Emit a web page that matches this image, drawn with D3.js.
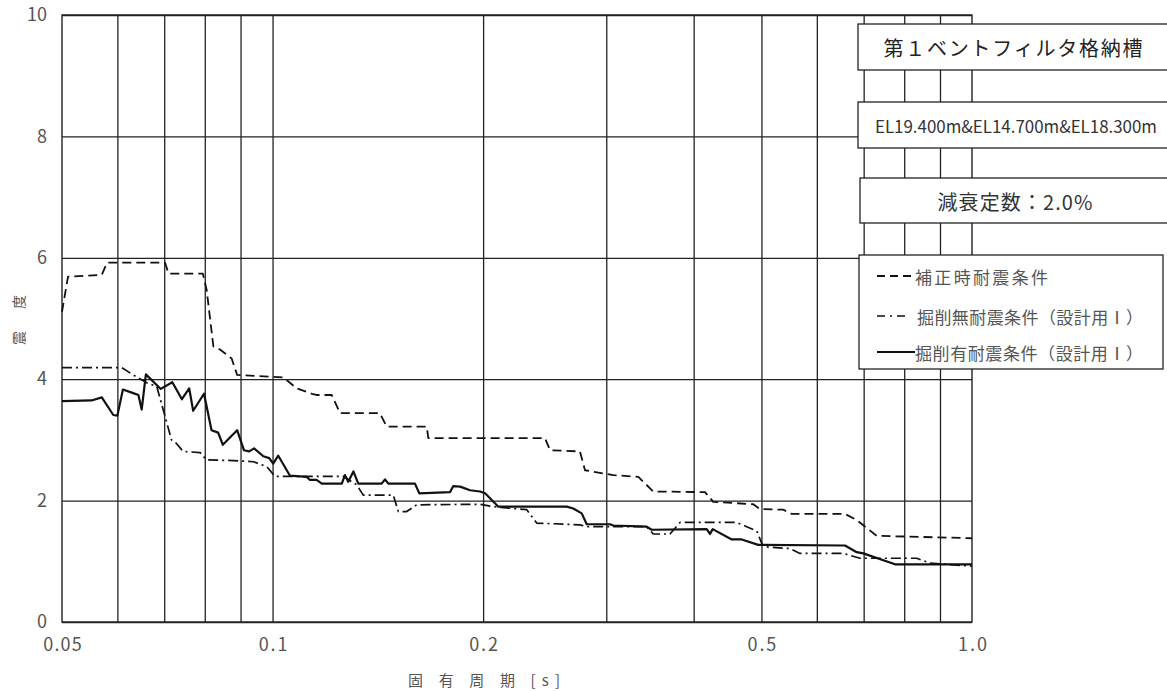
<!DOCTYPE html>
<html lang="ja">
<head>
<meta charset="utf-8">
<script src="https://cdn.jsdelivr.net/npm/d3@7"></script>
<style>
  html, body { margin: 0; padding: 0; background: #fff; }
  svg { display: block; }
  text { font-family: "Noto Sans CJK JP", "Noto Sans", sans-serif; }
</style>
</head>
<body>
<svg id="chart" width="1167" height="691"></svg>
<script>
// 固有周期 [s] と震度 — 3 条件の床応答スペクトル
const periodsHosei = [0.0500,0.0510,0.0570,0.0580,0.0702,0.0710,0.0795,0.0805,0.0823,0.0841,0.0874,0.0890,0.1002,0.1036,0.1083,0.1138,0.1156,0.1215,0.1249,0.1424,0.1456,0.1661,0.1670,0.2452,0.2493,0.2751,0.2797,0.3070,0.3334,0.3502,0.4152,0.4267,0.4868,0.4976,0.5373,0.5524,0.6583,0.6842,0.7307,1.0];
const valuesHosei  = [5.11,5.69,5.72,5.92,5.92,5.74,5.74,5.47,4.54,4.49,4.34,4.07,4.04,4.03,3.85,3.76,3.74,3.74,3.44,3.44,3.22,3.22,3.03,3.03,2.83,2.81,2.50,2.42,2.39,2.15,2.14,1.98,1.94,1.86,1.85,1.78,1.78,1.68,1.42,1.38];

const periodsKussakuNashi = [0.0500,0.0609,0.0632,0.0661,0.0683,0.0698,0.0717,0.0725,0.0745,0.0788,0.0805,0.0879,0.0939,0.0981,0.1008,0.1262,0.1319,0.1348,0.1488,0.1513,0.1555,0.1607,0.1980,0.2068,0.2309,0.2386,0.2751,0.2813,0.3427,0.3502,0.3700,0.3824,0.4609,0.4763,0.4923,0.5004,0.5040,0.5493,0.5676,0.6546,0.6917,0.8335,0.8709,1.0];
const valuesKussakuNashi  = [4.19,4.19,4.07,3.94,3.88,3.49,3.00,2.97,2.81,2.79,2.67,2.66,2.64,2.56,2.40,2.40,2.26,2.09,2.09,1.82,1.82,1.93,1.94,1.90,1.85,1.63,1.60,1.57,1.57,1.45,1.45,1.64,1.64,1.57,1.50,1.30,1.24,1.21,1.13,1.13,1.05,1.05,0.97,0.92];

const periodsKussakuAri = [0.0500,0.0551,0.0570,0.0592,0.0600,0.0611,0.0632,0.0643,0.0650,0.0659,0.0692,0.0719,0.0742,0.0760,0.0770,0.0798,0.0818,0.0836,0.0849,0.0890,0.0910,0.0926,0.0941,0.0970,0.0989,0.1002,0.1019,0.1059,0.1119,0.1131,0.1156,0.1176,0.1256,0.1269,0.1283,0.1305,0.1326,0.1432,0.1448,0.1464,0.1598,0.1621,0.1794,0.1813,0.1854,0.1916,0.1980,0.2013,0.2103,0.2634,0.2691,0.2767,0.2813,0.3037,0.3070,0.3427,0.3484,0.4176,0.4221,0.4259,0.4534,0.4686,0.4948,0.6583,0.6842,0.6992,0.7761,1.0];
const valuesKussakuAri  = [3.64,3.65,3.70,3.41,3.40,3.83,3.77,3.74,3.50,4.08,3.84,3.95,3.67,3.85,3.48,3.76,3.16,3.12,2.92,3.16,2.83,2.81,2.86,2.73,2.70,2.61,2.74,2.41,2.39,2.34,2.34,2.28,2.28,2.42,2.31,2.48,2.28,2.28,2.35,2.28,2.28,2.12,2.14,2.24,2.23,2.17,2.15,2.12,1.90,1.90,1.87,1.79,1.61,1.61,1.59,1.57,1.52,1.53,1.45,1.53,1.36,1.36,1.27,1.26,1.15,1.13,0.95,0.95];

const seriesNames = ["補正時耐震条件", "掘削無耐震条件（設計用Ⅰ）", "掘削有耐震条件（設計用Ⅰ）"];
const xTickValues = [0.05, 0.1, 0.2, 0.5, 1.0];
const xTickLabels = ["0.05", "0.1", "0.2", "0.5", "1.0"];
const xGridValues = [0.06, 0.07, 0.08, 0.09, 0.1, 0.2, 0.3, 0.4, 0.5, 0.6, 0.7, 0.8, 0.9];
const yTickValues = [0, 2, 4, 6, 8, 10];
const titleText = "第１ベントフィルタ格納槽";
const elevationText = "EL19.400m&EL14.700m&EL18.300m";
const dampingText = "減衰定数：2.0%";
const xAxisTitle = "固 有 周 期 [s]";
const yAxisTitle = "震 度";

const svg = d3.select("#chart");
const plotLeft = 62, plotRight = 972, plotTop = 15, plotBottom = 622;

const x = d3.scaleLog().domain([0.05, 1.0]).range([plotLeft, plotRight]);
const y = d3.scaleLinear().domain([0, 10]).range([plotBottom, plotTop]);

const gridColor = "#222";
const labelColor = "#555";

// grid lines
const gx = svg.append("g")
  .attr("transform", `translate(0,${plotBottom})`)
  .call(d3.axisBottom(x).tickValues(xGridValues).tickSize(-(plotBottom - plotTop)).tickFormat(""));
gx.select(".domain").remove();
gx.selectAll("line").attr("stroke", gridColor).attr("stroke-width", 1.3);

const gy = svg.append("g")
  .attr("transform", `translate(${plotLeft},0)`)
  .call(d3.axisLeft(y).tickValues(yTickValues).tickSize(-(plotRight - plotLeft)).tickFormat(""));
gy.select(".domain").remove();
gy.selectAll("line").attr("stroke", gridColor).attr("stroke-width", 1.3);

// plot frame
svg.append("rect")
  .attr("x", plotLeft).attr("y", plotTop)
  .attr("width", plotRight - plotLeft).attr("height", plotBottom - plotTop)
  .attr("fill", "none").attr("stroke", gridColor).attr("stroke-width", 1.4);

// tick labels
const ax = svg.append("g")
  .attr("transform", `translate(0,${plotBottom})`)
  .call(d3.axisBottom(x).tickValues(xTickValues).tickSize(0).tickPadding(16)
    .tickFormat((d, i) => xTickLabels[i]));
ax.select(".domain").remove();
ax.selectAll("text")
  .attr("fill", labelColor)
  .style("font-size", "18px")
  .style("font-family", "'Noto Sans CJK JP', sans-serif")
  .attr("textLength", d => xTickLabels[xTickValues.indexOf(d)].length * 9.6)
  .attr("lengthAdjust", "spacing");

const ay = svg.append("g")
  .attr("transform", `translate(${plotLeft},0)`)
  .call(d3.axisLeft(y).tickValues(yTickValues).tickSize(0).tickPadding(15).tickFormat(d3.format("d")));
ay.select(".domain").remove();
ay.selectAll("text")
  .attr("fill", labelColor)
  .style("font-size", "18px")
  .style("font-family", "'Noto Sans CJK JP', sans-serif");

// axis titles
svg.append("text")
  .attr("x", 408).attr("y", 679)
  .attr("dominant-baseline", "central")
  .attr("fill", labelColor)
  .style("font-size", "15px")
  .attr("textLength", 152).attr("lengthAdjust", "spacing")
  .text(xAxisTitle);

svg.append("text")
  .attr("transform", "translate(18,320) rotate(-90)")
  .attr("text-anchor", "middle")
  .attr("dominant-baseline", "central")
  .attr("fill", labelColor)
  .style("font-size", "14px")
  .attr("textLength", 50).attr("lengthAdjust", "spacing")
  .text(yAxisTitle);

// spectra
const series = [
  { periods: periodsHosei, values: valuesHosei, dash: "9,5", width: 1.8 },
  { periods: periodsKussakuNashi, values: valuesKussakuNashi, dash: "10,4,2,4", width: 1.7 },
  { periods: periodsKussakuAri, values: valuesKussakuAri, dash: null, width: 2.2 }
];

const line = d3.line().x(d => x(d[0])).y(d => y(d[1]));

series.forEach(s => {
  const pts = s.periods.map((p, i) => [p, s.values[i]]);
  svg.append("path")
    .datum(pts)
    .attr("d", line)
    .attr("fill", "none")
    .attr("stroke", "#111")
    .attr("stroke-width", s.width)
    .attr("stroke-linejoin", "round")
    .attr("stroke-dasharray", s.dash);
});

// info boxes (their right side runs off the page edge)
function box(bx, by, bw, bh) {
  svg.append("rect")
    .attr("x", bx).attr("y", by).attr("width", bw).attr("height", bh)
    .attr("fill", "#fff").attr("stroke", gridColor).attr("stroke-width", 1.3);
}

box(858, 24, 320, 46);
svg.append("text")
  .attr("x", 1013).attr("y", 47)
  .attr("text-anchor", "middle").attr("dominant-baseline", "central")
  .attr("fill", "#222").style("font-size", "20px")
  .attr("textLength", 259).attr("lengthAdjust", "spacing")
  .text(titleText);

box(858, 102, 320, 46);
svg.append("text")
  .attr("x", 1016).attr("y", 125)
  .attr("text-anchor", "middle").attr("dominant-baseline", "central")
  .attr("fill", "#333").style("font-size", "17px")
  .attr("textLength", 282).attr("lengthAdjust", "spacingAndGlyphs")
  .text(elevationText);

box(860, 178, 318, 45);
svg.append("text")
  .attr("x", 1015).attr("y", 201)
  .attr("text-anchor", "middle").attr("dominant-baseline", "central")
  .attr("fill", "#333").style("font-size", "20px")
  .attr("textLength", 155).attr("lengthAdjust", "spacing")
  .text(dampingText);

// legend
box(859, 255, 304, 114);
const legendRows = [
  { y: 276, dash: "8,5", width: 1.8, x2: 915, tx: 915, tl: 133 },
  { y: 316, dash: "8,5,2,5", width: 1.7, x2: 907, tx: 917, tl: 226 },
  { y: 352, dash: null, width: 2.2, x2: 915, tx: 915, tl: 228 }
];
legendRows.forEach((r, i) => {
  svg.append("line")
    .attr("x1", 877).attr("x2", r.x2)
    .attr("y1", r.y).attr("y2", r.y)
    .attr("stroke", "#111").attr("stroke-width", r.width)
    .attr("stroke-dasharray", r.dash);
  svg.append("text")
    .attr("x", r.tx).attr("y", r.y)
    .attr("dominant-baseline", "central")
    .attr("fill", labelColor).style("font-size", "17px")
    .attr("textLength", r.tl).attr("lengthAdjust", "spacing")
    .text(seriesNames[i]);
});
</script>
</body>
</html>
